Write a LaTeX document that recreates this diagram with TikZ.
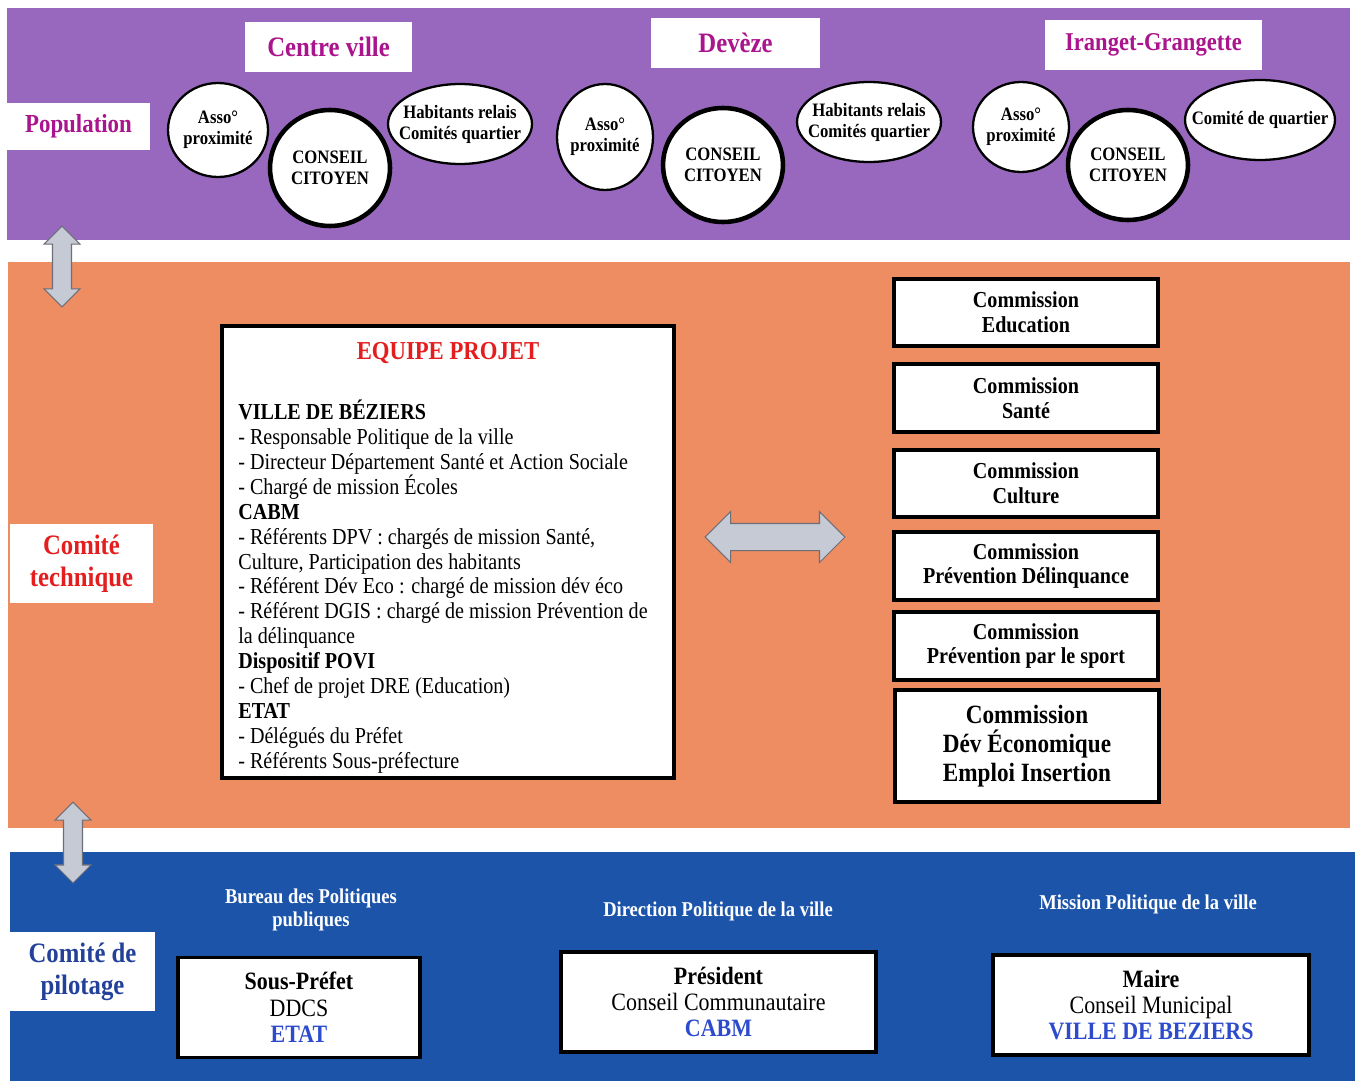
\documentclass[tikz,border=0pt]{standalone}
\usepackage{fontspec}
\setmainfont{Liberation Serif}[FakeStretch=0.88]
\usetikzlibrary{shapes.geometric,shapes.arrows}

\definecolor{popviolet}{RGB}{152,104,190}
\definecolor{techorange}{RGB}{238,140,98}
\definecolor{pilblue}{RGB}{28,84,170}
\definecolor{popmagenta}{RGB}{170,20,140}
\definecolor{techred}{RGB}{228,30,30}
\definecolor{pilnavy}{RGB}{35,65,155}
\definecolor{lienblue}{RGB}{45,75,205}
\definecolor{arrowgray}{RGB}{198,202,212}
\definecolor{arrowedge}{RGB}{110,110,120}

\begin{document}
\begin{tikzpicture}[x=0.02cm, y=-0.02cm,
  bande/.style = {rectangle, inner sep=0},
  etiquette/.style = {fill=white, inner sep=0, align=center, font=\bfseries\fontsize{16}{18.2}\selectfont},
  asso/.style = {draw, ellipse, fill=white, line width=1.3pt, inner sep=-12pt, align=center, font=\bfseries\fontsize{10.8}{12}\selectfont},
  conseil/.style = {asso, line width=2.6pt},
  commission/.style = {draw, fill=white, line width=2.2pt, minimum width=5.28cm, minimum height=1.35cm, inner sep=0, align=center, font=\bfseries\fontsize{13}{14.2}\selectfont},
  instance/.style = {draw, fill=white, line width=2.2pt, minimum height=2cm, inner sep=0, align=center, font=\fontsize{14.2}{15}\selectfont},
  entete/.style = {text=white, align=center, font=\bfseries\fontsize{12}{13}\selectfont},
  flux/.style = {double arrow, draw=arrowedge, fill=arrowgray, line width=0.6pt, inner xsep=0}
]
\useasboundingbox[fill=white] (0,0) rectangle (1355,1081);

% les trois niveaux
\node[bande, fill=popviolet, minimum width=26.86cm, minimum height=4.64cm] (pop) at (678.5,124) {};
\node[bande, fill=techorange, minimum width=26.84cm, minimum height=11.32cm] (tech) at (679,545) {};
\node[bande, fill=pilblue, minimum width=26.9cm, minimum height=4.58cm] (pil) at (682.5,966.5) {};

\node[etiquette, text=popmagenta, minimum width=2.86cm, minimum height=0.94cm, font=\bfseries\fontsize{14.8}{16}\selectfont] (population) at (78.5,126.5) {Population};
\node[etiquette, text=techred, minimum width=2.86cm, minimum height=1.58cm] (comtech) at (81.5,563.5) {Comité\\technique};
\node[etiquette, text=pilnavy, minimum width=2.9cm, minimum height=1.58cm] (copil) at (82.5,971.5) {Comité de\\pilotage};

% quartiers
\node[etiquette, text=popmagenta, minimum width=3.34cm, minimum height=1cm] (centre) at (328.5,47) {Centre ville};
\node[etiquette, text=popmagenta, minimum width=3.38cm, minimum height=1cm] (deveze) at (735.5,43) {Devèze};
\node[etiquette, text=popmagenta, minimum width=4.34cm, minimum height=1cm, font=\bfseries\fontsize{14.6}{16}\selectfont] (iranget) at (1153.5,45) {Iranget-Grangette};

\node[asso, minimum width=2cm, minimum height=1.88cm] (asso1) at (218,130) {Asso°\\proximité};
\node[conseil, minimum width=2.4cm, minimum height=2.32cm] (cc1) at (330,168) {CONSEIL\\CITOYEN};
\node[asso, minimum width=2.88cm, minimum height=1.6cm] (hab1) at (460,124) {Habitants relais\\Comités quartier};

\node[asso, minimum width=1.92cm, minimum height=2.12cm] (asso2) at (605,137) {Asso°\\proximité};
\node[conseil, minimum width=2.4cm, minimum height=2.28cm] (cc2) at (723,165) {CONSEIL\\CITOYEN};
\node[asso, minimum width=2.88cm, minimum height=1.6cm] (hab2) at (869,122) {Habitants relais\\Comités quartier};

\node[asso, minimum width=1.92cm, minimum height=1.8cm] (asso3) at (1021,127) {Asso°\\proximité};
\node[conseil, minimum width=2.4cm, minimum height=2.2cm] (cc3) at (1128,165) {CONSEIL\\CITOYEN};
\node[asso, minimum width=3cm, minimum height=1.6cm] (cq3) at (1260,120) {Comité de quartier};

% equipe projet
\node[draw, fill=white, line width=2.2pt, minimum width=9.04cm, minimum height=9.04cm] (equipe) at (448,552) {};
\node[text=techred, font=\bfseries\fontsize{14.7}{16}\selectfont] (titre) at (448,353) {EQUIPE PROJET};
\node[anchor=north west, inner sep=0, align=left, font=\fontsize{13}{14.15}\selectfont] (membres) at (238,400) {%
\textbf{VILLE DE BÉZIERS}\\
- Responsable Politique de la ville\\
- Directeur Département Santé et Action Sociale\\
- Chargé de mission Écoles\\
\textbf{CABM}\\
- Référents DPV : chargés de mission Santé,\\
Culture, Participation des habitants\\
- Référent Dév Eco : chargé de mission dév éco\\
- Référent DGIS : chargé de mission Prévention de\\
la délinquance\\
\textbf{Dispositif POVI}\\
- Chef de projet DRE (Education)\\
\textbf{ETAT}\\
- Délégués du Préfet\\
- Référents Sous-préfecture};

% commissions
\node[commission] (educ) at (1026,312.5) {Commission\\Education};
\node[commission] (sante) at (1026,398) {Commission\\Santé};
\node[commission] (culture) at (1026,483.5) {Commission\\Culture};
\node[commission] (delinq) at (1026,566) {Commission\\Prévention Délinquance};
\node[commission] (sport) at (1026,646) {Commission\\Prévention par le sport};
\node[commission, minimum height=2.24cm, font=\bfseries\fontsize{15}{16.5}\selectfont] (eco) at (1027,746) {Commission\\Dév Économique\\Emploi Insertion};

% fleches
\node[flux, rotate=90, inner ysep=0.18cm, double arrow head extend=0.17cm, minimum height=1.62cm] (flux1) at (62,266.5) {};
\node[flux, rotate=90, inner ysep=0.18cm, double arrow head extend=0.17cm, minimum height=1.62cm] (flux2) at (73,842.5) {};
\node[flux, inner ysep=0.26cm, double arrow head extend=0.24cm, minimum height=2.8cm] (lien) at (775,537) {};

% comite de pilotage
\node[entete] (bureau) at (311,910) {Bureau des Politiques\\publiques};
\node[entete] (direction) at (718,911) {Direction Politique de la ville};
\node[entete] (mission) at (1148,904) {Mission Politique de la ville};

\node[instance, minimum width=4.84cm] (etat) at (299,1007.5) {\textbf{Sous-Préfet}\\DDCS\\{\color{lienblue}\bfseries ETAT}};
\node[instance, minimum width=6.3cm] (cabm) at (718.5,1002) {\textbf{Président}\\Conseil Communautaire\\{\color{lienblue}\bfseries CABM}};
\node[instance, minimum width=6.32cm] (ville) at (1151,1005) {\textbf{Maire}\\Conseil Municipal\\{\color{lienblue}\bfseries VILLE DE BEZIERS}};
\end{tikzpicture}
\end{document}
